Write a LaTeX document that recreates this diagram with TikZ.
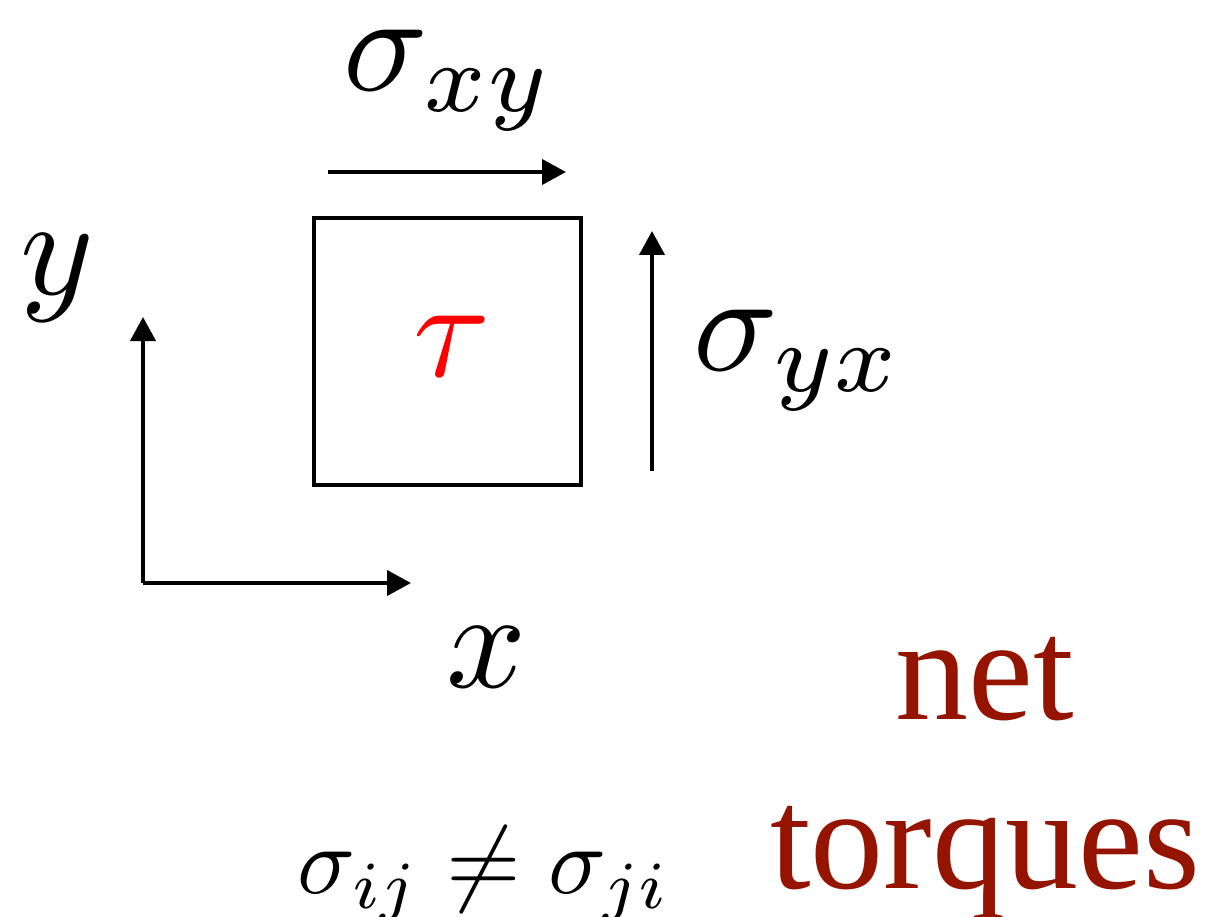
\documentclass[tikz,border=0pt]{standalone}
\usepackage{fontspec}
\newfontfamily\timesfont{Liberation Serif}
\usetikzlibrary{arrows.meta}
\definecolor{netred}{RGB}{148,20,0}
\begin{document}
\begin{tikzpicture}[x=1pt,y=-1pt,
  line/.style={line width=4pt},
  arr/.style={line width=4pt,-{Triangle[length=24pt,width=25pt]}},
  big/.style={inner sep=0pt,scale=14},
  mid/.style={inner sep=0pt,scale=9.6},
  word/.style={inner sep=0pt,anchor=base,text=netred,font=\timesfont\fontsize{146}{146}\selectfont}]
\useasboundingbox (0,0) rectangle (1210,917);
\node[draw,line,minimum width=267pt,minimum height=267pt,inner sep=0pt] (box) at (447,351.5) {};
\node[big,text=red] (tau) at (452,346) {$\tau$};
\coordinate (t1) at (328,172); \coordinate (t2) at (566,172);
\draw[arr] (t1) -- (t2);
\node[big] (sxy) at (449,80) {$\sigma_{xy}$};
\coordinate (r1) at (652,471); \coordinate (r2) at (652,231);
\draw[arr] (r1) -- (r2);
\node[big] (syx) at (799,360) {$\sigma_{yx}$};
\coordinate (o) at (143,583); \coordinate (ya) at (143,317); \coordinate (xa) at (411,583);
\draw[arr] (o) -- (ya);
\draw[arr] (o) -- (xa);
\node[big] (ylab) at (57,278) {$y$};
\node[big] (xlab) at (487,657) {$x$};
\node[mid] (neq) at (484,874) {$\sigma_{ij}\neq\sigma_{ji}$};
\node[word] (net) at (985,719) {net};
\node[word] (torq) at (985,888) {torques};
\end{tikzpicture}
\end{document}
